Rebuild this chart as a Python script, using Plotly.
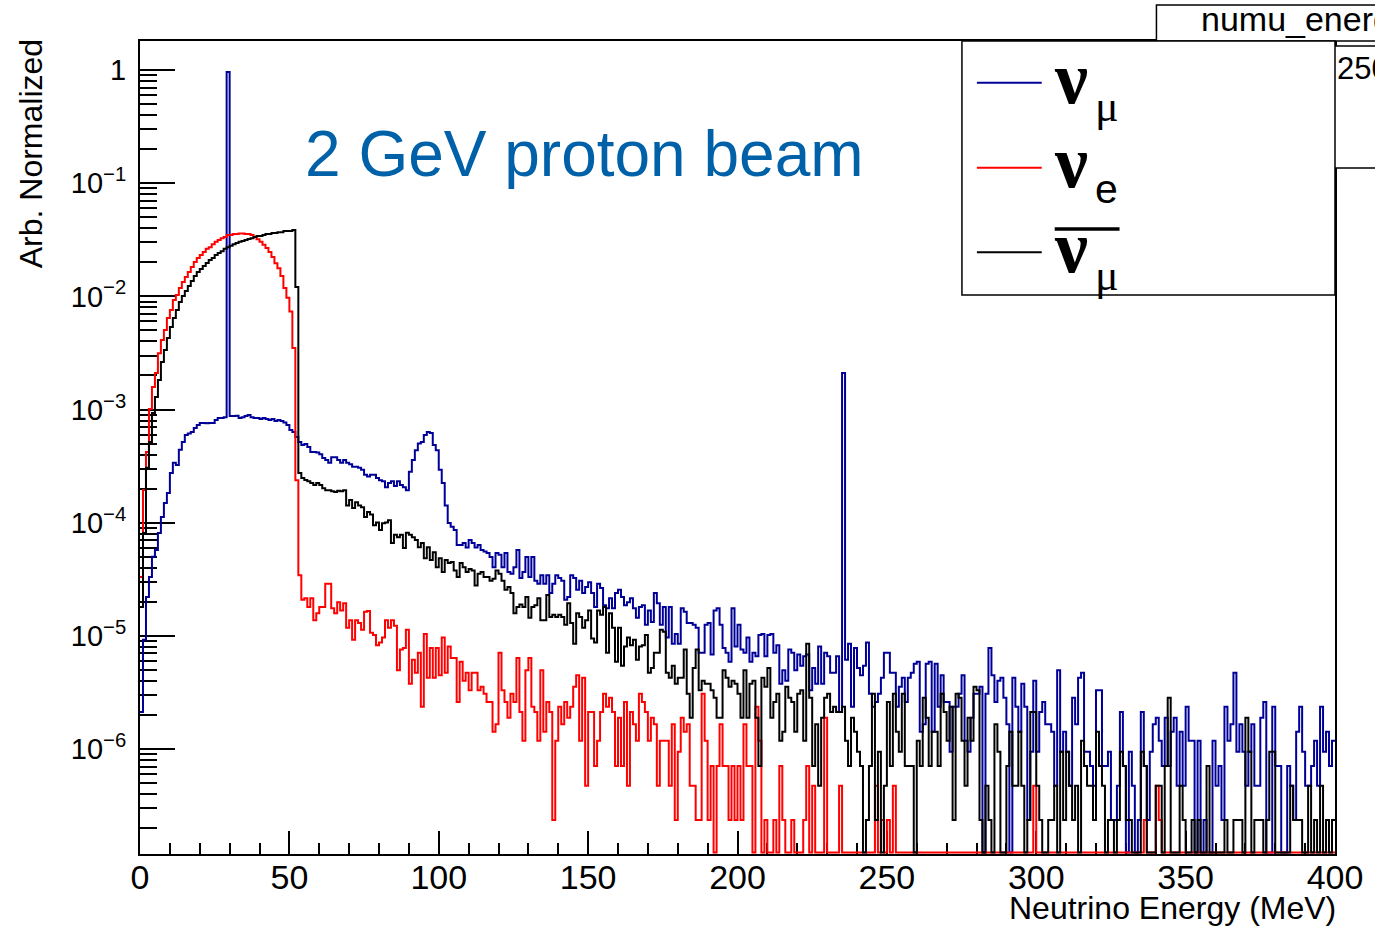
import numpy as np
import plotly.graph_objects as go

# ---------------- data ----------------
# 1 MeV bins from 0 to 400 MeV; contents are event counts per bin
bin_edges_mev = list(range(0, 401))
norm_per_count = 2.368e-7   # "Arb. Normalized" value of one event

numu_counts = [
    9, 39, 93, 140, 211, 243, 343, 475, 631, 774,
    1160, 1430, 1370, 1860, 2180, 2520, 2600, 2680, 2900, 3080,
    3210, 3210, 3200, 3220, 3210, 3420, 3550, 3550, 3620, 4050000,
    3700, 3700, 3720, 3550, 3620, 3700, 3780, 3620, 3560, 3560,
    3490, 3560, 3490, 3420, 3490, 3340, 3420, 3340, 3250, 3080,
    2790, 2680, 2420, 2180, 2050, 2100, 1970, 1780, 1780, 1760,
    1700, 1580, 1510, 1430, 1600, 1600, 1510, 1430, 1510, 1430,
    1390, 1320, 1320, 1290, 1240, 1120, 1080, 1120, 1120, 1050,
    1000, 980, 870, 950, 980, 890, 980, 910, 870, 820,
    1190, 1510, 1850, 2120, 2180, 2520, 2680, 2620, 2050, 1850,
    1240, 950, 600, 420, 390, 364, 268, 268, 280, 255,
    298, 280, 255, 268, 243, 235, 228, 210, 171, 228,
    220, 171, 228, 155, 150, 171, 243, 137, 155, 210,
    140, 210, 130, 122, 145, 122, 145, 101, 122, 145,
    137, 130, 88, 93, 145, 137, 108, 130, 101, 114,
    126, 101, 76, 122, 112, 79, 74, 91, 74, 101,
    108, 93, 79, 84, 91, 74, 61, 76, 79, 53,
    71, 56, 101, 82, 53, 76, 41, 76, 36, 44,
    36, 74, 69, 55, 55, 53, 50, 30, 30, 53,
    55, 29, 71, 74, 53, 33, 30, 25, 74, 34,
    53, 32, 30, 41, 25, 30, 28, 43, 44, 28,
    43, 44, 30, 35, 16, 21, 17, 32, 30, 21,
    29, 23, 28, 29, 14, 22, 16, 34, 16, 30,
    28, 20, 20, 28, 9, 8890, 26, 36, 10, 33,
    22, 19, 23, 37, 13, 10, 11, 13, 18, 30,
    30, 20, 20, 10, 15, 18, 11, 18, 20, 24,
    25, 6, 7, 24, 25, 6, 24, 10, 19, 11,
    11, 4, 10, 10, 13, 19, 5, 4, 8, 13,
    13, 15, 0, 13, 33, 19, 11, 17, 18, 12,
    7, 0, 18, 10, 6, 16, 10, 1, 4, 17,
    4, 9, 11, 7, 7, 6, 2, 21, 4, 6,
    4, 2, 12, 7, 18, 20, 4, 4, 3, 2,
    14, 14, 3, 3, 4, 1, 1, 2, 9, 3,
    0, 4, 2, 0, 1, 9, 3, 1, 4, 7,
    8, 5, 3, 8, 3, 6, 8, 2, 6, 2,
    10, 5, 5, 0, 5, 0, 1, 0, 0, 5,
    2, 3, 1, 10, 5, 7, 20, 4, 7, 4,
    2, 4, 7, 2, 2, 8, 11, 0, 0, 10,
    3, 3, 0, 0, 3, 2, 1, 6, 10, 4,
    2, 2, 3, 5, 2, 10, 4, 6, 3, 5,
]

nue_counts = [
    140, 822, 1780, 4270, 6680, 8890, 13300, 17400, 21300, 27200,
    32000, 39300, 43400, 50100, 56600, 62700, 69400, 76800, 84900, 92200,
    98000, 104000, 111000, 115000, 122000, 128000, 133000, 138000, 141000, 147000,
    147000, 150000, 150000, 152000, 152000, 150000, 150000, 147000, 141000, 135000,
    128000, 121000, 113000, 104000, 94000, 83000, 75000, 64000, 50000, 41000,
    31000, 14800, 1000, 145, 88, 91, 76, 91, 58, 67,
    76, 76, 122, 122, 74, 67, 84, 71, 82, 50,
    58, 39, 58, 55, 48, 69, 70, 45, 43, 35,
    37, 41, 58, 50, 58, 52, 21, 32, 33, 48,
    16, 26, 20, 30, 10, 44, 18, 33, 18, 33,
    19, 41, 20, 34, 27, 27, 11, 25, 17, 20,
    14, 20, 20, 14, 15, 13, 11, 11, 6, 7,
    30, 14, 11, 8, 13, 11, 27, 9, 5, 21,
    27, 10, 9, 5, 21, 6, 11, 9, 1, 5,
    10, 7, 11, 8, 10, 15, 19, 5, 18, 2,
    9, 9, 3, 5, 9, 13, 10, 12, 9, 3,
    8, 3, 11, 2, 9, 7, 5, 13, 11, 9,
    5, 8, 7, 2, 5, 5, 5, 2, 7, 1,
    4, 8, 6, 7, 2, 2, 1, 1, 13, 5,
    1, 3, 0, 3, 7, 3, 3, 1, 3, 1,
    3, 1, 7, 3, 3, 0, 10, 5, 0, 1,
    0, 0, 1, 0, 3, 1, 0, 0, 1, 0,
    0, 0, 1, 3, 0, 2, 0, 0, 0, 8,
    0, 0, 0, 0, 2, 0, 0, 0, 0, 0,
    0, 0, 0, 0, 0, 0, 2, 0, 1, 0,
    1, 0, 2, 0, 0, 0, 0, 0, 0, 0,
    0, 0, 0, 0, 0, 0, 0, 0, 0, 0,
    0, 0, 0, 0, 0, 0, 0, 0, 0, 0,
    0, 0, 0, 0, 0, 0, 0, 0, 0, 0,
    0, 0, 0, 0, 0, 0, 0, 0, 0, 2,
    0, 0, 0, 0, 0, 0, 0, 0, 0, 0,
    0, 0, 0, 0, 0, 0, 0, 0, 0, 0,
    0, 0, 0, 0, 0, 0, 0, 0, 0, 0,
    0, 0, 0, 0, 0, 0, 1, 0, 0, 0,
    2, 1, 0, 0, 0, 0, 0, 0, 0, 0,
    0, 0, 0, 0, 0, 0, 0, 0, 0, 0,
    0, 0, 0, 0, 0, 0, 0, 0, 0, 0,
    0, 0, 0, 0, 0, 0, 0, 0, 0, 0,
    0, 0, 0, 0, 0, 0, 0, 0, 0, 0,
    0, 0, 0, 0, 0, 0, 0, 0, 0, 0,
]

numubar_counts = [
    76, 343, 1290, 2180, 3940, 5450, 7710, 11100, 14200, 18100,
    22600, 27200, 32000, 37700, 42600, 47100, 52100, 57700, 63900, 69300,
    73700, 78300, 83200, 88500, 92200, 98000, 102000, 106000, 111000, 115000,
    118000, 122000, 125000, 128000, 130000, 133000, 136000, 138000, 141000, 144000,
    144000, 147000, 150000, 150000, 153000, 153000, 156000, 156000, 160000, 160000,
    160000, 163000, 51100, 1160, 1050, 1010, 980, 950, 910, 950,
    910, 850, 820, 820, 800, 790, 810, 800, 820, 600,
    670, 570, 640, 600, 580, 475, 525, 500, 402, 425,
    364, 418, 425, 445, 280, 330, 315, 330, 252, 345,
    330, 315, 298, 256, 280, 205, 256, 198, 232, 171,
    205, 155, 198, 186, 190, 160, 140, 186, 171, 155,
    165, 160, 118, 150, 155, 140, 140, 130, 135, 160,
    150, 130, 108, 114, 101, 67, 76, 80, 76, 93,
    61, 76, 79, 91, 58, 58, 97, 62, 65, 62,
    65, 62, 53, 82, 55, 36, 67, 62, 50, 58,
    71, 40, 37, 71, 65, 76, 30, 67, 50, 25,
    50, 23, 34, 41, 35, 39, 26, 34, 35, 43,
    20, 22, 30, 30, 48, 46, 20, 18, 23, 16,
    18, 18, 32, 13, 8, 22, 32, 14, 17, 16,
    16, 14, 12, 8, 8, 21, 18, 15, 17, 16,
    13, 8, 21, 8, 16, 17, 8, 3, 18, 15,
    22, 8, 11, 13, 5, 6, 15, 12, 11, 6,
    13, 14, 5, 36, 12, 3, 7, 2, 8, 12,
    13, 9, 10, 9, 9, 10, 5, 3, 8, 6,
    4, 3, 0, 1, 3, 13, 1, 4, 0, 2,
    11, 3, 13, 6, 4, 13, 3, 3, 3, 0,
    5, 3, 12, 8, 3, 6, 6, 3, 13, 9,
    5, 10, 1, 13, 12, 5, 2, 8, 5, 15,
    14, 1, 0, 2, 1, 0, 7, 4, 0, 0,
    3, 6, 2, 2, 6, 2, 0, 1, 9, 9,
    2, 1, 0, 0, 1, 1, 2, 0, 4, 1,
    4, 2, 1, 2, 0, 5, 3, 2, 2, 1,
    6, 3, 2, 0, 1, 1, 0, 1, 4, 3,
    1, 1, 0, 0, 0, 4, 3, 0, 0, 0,
    2, 2, 0, 3, 12, 0, 0, 0, 2, 1,
    0, 0, 1, 0, 1, 0, 0, 3, 0, 0,
    0, 0, 0, 1, 0, 0, 1, 1, 1, 0,
    8, 4, 0, 1, 1, 1, 0, 1, 4, 4,
    0, 0, 0, 0, 0, 2, 1, 1, 1, 0,
    0, 2, 0, 1, 0, 2, 0, 1, 0, 1,
]

x_tick_values = [0, 50, 100, 150, 200, 250, 300, 350, 400]
y_tick_values = [1e-6, 1e-5, 1e-4, 1e-3, 1e-2, 1e-1, 1]
y_tick_labels = ["10<sup>−6</sup>", "10<sup>−5</sup>", "10<sup>−4</sup>",
                 "10<sup>−3</sup>", "10<sup>−2</sup>", "10<sup>−1</sup>", "1"]

series_names = ["ν_μ", "ν_e", "anti ν_μ"]
series_colors = ["#000099", "#ff0000", "#000000"]

# ---------------- figure ----------------
W, H = 1375, 930
L, R, T, B = 140, 37, 41, 76
PW, PH = W - L - R, H - T - B

y_min = 0.5 * norm_per_count          # ROOT log-scale minimum
y_max = 1.804
floor_val = y_min * 1.031             # empty bins drawn on the bottom edge


def px(xp):
    return (xp - L) / PW


def py(yp):
    return (H - B - yp) / PH


fig = go.Figure()
for counts, name, col in zip([numu_counts, nue_counts, numubar_counts],
                             series_names, series_colors):
    vals = np.array(counts, dtype=float) * norm_per_count
    vals = np.where(vals > 0, vals, floor_val)
    yy = np.append(vals, vals[-1])
    fig.add_trace(go.Scatter(x=bin_edges_mev, y=yy, mode="lines", line_shape="hv",
                             line=dict(color=col, width=2), name=name,
                             showlegend=False, hoverinfo="skip"))

font_main = "Liberation Sans, Arial, Helvetica, sans-serif"
font_serif = "Liberation Serif, Times New Roman, serif"

fig.update_layout(
    width=W, height=H, autosize=False,
    margin=dict(l=L, r=R, t=T, b=B, pad=0),
    paper_bgcolor="white", plot_bgcolor="white",
    showlegend=False,
    font=dict(family=font_main, color="black"),
    xaxis=dict(range=[0, 400], tickmode="array", tickvals=x_tick_values,
               ticks="inside", ticklen=23, tickwidth=2, tickcolor="black",
               minor=dict(ticks="inside", ticklen=11, tickwidth=1.5, tickcolor="black",
                          dtick=10, tick0=0, showgrid=False),
               showline=True, mirror=True, linecolor="black", linewidth=2,
               showgrid=False, zeroline=False, layer="below traces",
               tickfont=dict(size=34, family=font_main, color="black"),
               ticklabelstandoff=-8),
    yaxis=dict(type="log", range=[np.log10(y_min), np.log10(y_max)],
               tickmode="array", tickvals=y_tick_values, ticktext=y_tick_labels,
               ticks="inside", ticklen=35, tickwidth=2, tickcolor="black",
               minor=dict(ticks="inside", ticklen=17, tickwidth=1.5, tickcolor="black",
                          dtick="D1", showgrid=False),
               showline=True, mirror=True, linecolor="black", linewidth=2,
               showgrid=False, zeroline=False, layer="below traces",
               tickfont=dict(size=29, family=font_main, color="black"),
               ticklabelstandoff=6),
)

shapes = []
# stats box (mostly hidden behind legend / canvas edge)
shapes.append(dict(type="rect", xref="paper", yref="paper",
                   x0=px(1159), x1=px(1420), y0=py(41), y1=py(5),
                   line=dict(color="black", width=1.5), fillcolor="white", layer="above"))
shapes.append(dict(type="rect", xref="paper", yref="paper",
                   x0=px(1200), x1=px(1420), y0=py(168), y1=py(46),
                   line=dict(color="black", width=1.5), fillcolor="white", layer="above"))
# legend box
shapes.append(dict(type="rect", xref="paper", yref="paper",
                   x0=px(964), x1=px(1338), y0=py(295), y1=py(41),
                   line=dict(color="black", width=1.5), fillcolor="white", layer="above"))
for col, yl in zip(series_colors, [82.7, 167.7, 252.3]):
    shapes.append(dict(type="line", xref="paper", yref="paper",
                       x0=px(979), x1=px(1044), y0=py(yl), y1=py(yl),
                       line=dict(color=col, width=2), layer="above"))
# bar over anti-neutrino symbol
shapes.append(dict(type="line", xref="paper", yref="paper",
                   x0=px(1057), x1=px(1122), y0=py(229), y1=py(229),
                   line=dict(color="black", width=3.5), layer="above"))
fig.update_layout(shapes=shapes)

ann = []
ann.append(dict(text="2 GeV proton beam", xref="paper", yref="paper",
                x=px(303), y=py(153.5), xanchor="left", yanchor="middle", showarrow=False,
                font=dict(size=64, family=font_main, color="#0061a8")))
ann.append(dict(text="Neutrino Energy (MeV)", xref="paper", yref="paper",
                x=px(1341), y=py(908), xanchor="right", yanchor="middle", showarrow=False,
                font=dict(size=32, family=font_main, color="black")))
ann.append(dict(text="Arb. Normalized", xref="paper", yref="paper", textangle=-90,
                x=px(31), y=py(154), xanchor="center", yanchor="middle", showarrow=False,
                font=dict(size=32, family=font_main, color="black")))
ann.append(dict(text="numu_energy", xref="paper", yref="paper",
                x=px(1202), y=py(19), xanchor="left", yanchor="middle", showarrow=False,
                font=dict(size=34, family=font_main, color="black")))
ann.append(dict(text="2500000", xref="paper", yref="paper",
                x=px(1338), y=py(68), xanchor="left", yanchor="middle", showarrow=False,
                font=dict(size=31, family=font_main, color="black")))
# legend labels
for yc in [78, 162, 247]:
    ann.append(dict(text="ν", xref="paper", yref="paper",
                    x=px(1054), y=py(yc), xanchor="left", yanchor="middle", showarrow=False,
                    font=dict(size=74, family=font_serif, color="black", weight="bold")))
for txt, yc, fam, sz in [("μ", 106, font_serif, 44), ("e", 189, font_main, 41),
                         ("μ", 275, font_serif, 44)]:
    ann.append(dict(text=txt, xref="paper", yref="paper",
                    x=px(1095), y=py(yc), xanchor="left", yanchor="middle", showarrow=False,
                    font=dict(size=sz, family=fam, color="black")))
fig.update_layout(annotations=ann)

fig.write_html("out.html", config={"displayModeBar": False},
               post_script="document.body.style.margin='0';")
